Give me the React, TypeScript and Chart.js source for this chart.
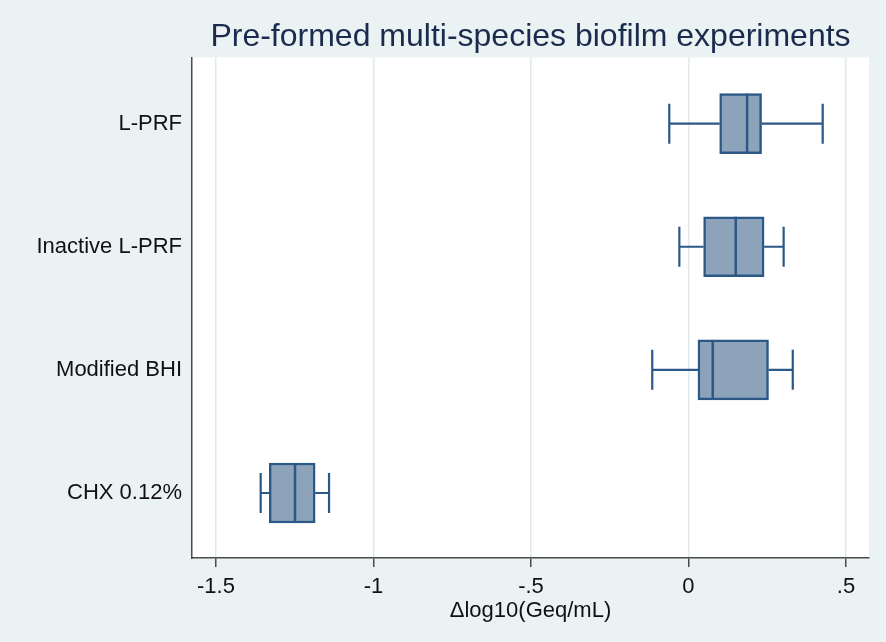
import React, { useEffect, useRef } from "react";
import { Chart, registerables } from "chart.js";

Chart.register(...registerables);

// groups, top to bottom
const groups = ["L-PRF", "Inactive L-PRF", "Modified BHI", "CHX 0.12%"];

// box plot summary values
const whiskerLow = [-0.061, -0.029, -0.115, -1.358];
const q1 = [0.099, 0.048, 0.03, -1.331];
const median = [0.186, 0.15, 0.077, -1.249];
const q3 = [0.232, 0.24, 0.254, -1.185];
const whiskerHigh = [0.426, 0.302, 0.331, -1.141];

const tickValues = [-1.5, -1, -0.5, 0, 0.5];
const tickLabels = ["-1.5", "-1", "-.5", "0", ".5"];

const FONT = "'Liberation Sans', Arial, sans-serif";
const BG = "#EAF2F3";
const BOX_FILL = "#8DA3BA";
const BOX_LINE = "#2C5887";
const AXIS = "#4A4A4A";

// page background + white plot region
const backgroundPlugin = {
  id: "stataBackground",
  beforeDraw(chart) {
    const { ctx, chartArea, width, height } = chart;
    ctx.save();
    ctx.fillStyle = BG;
    ctx.fillRect(0, 0, width, height);
    ctx.fillStyle = "#ffffff";
    ctx.fillRect(
      chartArea.left,
      chartArea.top,
      chartArea.right - chartArea.left,
      chartArea.bottom - chartArea.top
    );
    ctx.restore();
  },
};

// whiskers go under the boxes, medians on top
const boxPlotPlugin = {
  id: "boxPlotParts",
  beforeDatasetsDraw(chart) {
    const { ctx } = chart;
    const xScale = chart.scales.x;
    const meta = chart.getDatasetMeta(0);
    ctx.save();
    ctx.strokeStyle = BOX_LINE;
    ctx.lineWidth = 2.2;
    meta.data.forEach((bar, i) => {
      const y = bar.y;
      const lo = xScale.getPixelForValue(whiskerLow[i]);
      const hi = xScale.getPixelForValue(whiskerHigh[i]);
      const a = xScale.getPixelForValue(q1[i]);
      const b = xScale.getPixelForValue(q3[i]);
      const cap = bar.height / 3;
      ctx.beginPath();
      ctx.moveTo(lo, y);
      ctx.lineTo(a, y);
      ctx.moveTo(b, y);
      ctx.lineTo(hi, y);
      ctx.moveTo(lo, y - cap);
      ctx.lineTo(lo, y + cap);
      ctx.moveTo(hi, y - cap);
      ctx.lineTo(hi, y + cap);
      ctx.stroke();
    });
    ctx.restore();
  },
  afterDatasetsDraw(chart) {
    const { ctx } = chart;
    const xScale = chart.scales.x;
    const meta = chart.getDatasetMeta(0);
    ctx.save();
    ctx.strokeStyle = BOX_LINE;
    ctx.lineWidth = 2.5;
    meta.data.forEach((bar, i) => {
      const m = xScale.getPixelForValue(median[i]);
      ctx.beginPath();
      ctx.moveTo(m, bar.y - bar.height / 2);
      ctx.lineTo(m, bar.y + bar.height / 2);
      ctx.stroke();
    });
    ctx.restore();
  },
};

const BoxChart = () => {
  const canvasRef = useRef(null);
  const chartRef = useRef(null);

  useEffect(() => {
    document.body.style.margin = "0";
    if (!canvasRef.current) return;
    if (chartRef.current) chartRef.current.destroy();

    chartRef.current = new Chart(canvasRef.current, {
      type: "bar",
      data: {
        datasets: [
          {
            data: groups.map((_, i) => ({ y: i, x: [q1[i], q3[i]] })),
            backgroundColor: BOX_FILL,
            borderColor: BOX_LINE,
            borderWidth: 2.5,
            borderSkipped: false,
            barThickness: 60,
          },
        ],
      },
      options: {
        indexAxis: "y",
        responsive: true,
        maintainAspectRatio: false,
        animation: false,
        layout: { padding: { left: 0, right: 17, top: 0, bottom: 0 } },
        scales: {
          x: {
            type: "linear",
            min: -1.576,
            max: 0.573,
            afterBuildTicks: (scale) => {
              scale.ticks = tickValues.map((v) => ({ value: v }));
            },
            afterFit: (scale) => {
              scale.height = 84;
            },
            grid: {
              color: "#E2EAED",
              lineWidth: 1.5,
              drawTicks: true,
              tickLength: 9,
              tickColor: AXIS,
              tickWidth: 1.5,
            },
            border: { display: true, color: AXIS, width: 1.5 },
            ticks: {
              color: "#111111",
              font: { family: FONT, size: 22 },
              padding: 7,
              maxRotation: 0,
              callback: (value, index) => tickLabels[index],
            },
            title: {
              display: true,
              text: "Δlog10(Geq/mL)",
              color: "#111111",
              font: { family: FONT, size: 22 },
              padding: { top: 0, bottom: 18 },
            },
          },
          y: {
            type: "linear",
            reverse: true,
            offset: false,
            min: -0.538,
            max: 3.528,
            afterBuildTicks: (scale) => {
              scale.ticks = groups.map((_, i) => ({ value: i }));
            },
            afterFit: (scale) => {
              scale.width = 192;
            },
            grid: { display: false, drawTicks: false, offset: false },
            border: { display: true, color: AXIS, width: 1.5 },
            ticks: {
              color: "#111111",
              font: { family: FONT, size: 22 },
              padding: 10,
              callback: (value) => groups[value],
            },
          },
        },
        plugins: {
          legend: { display: false },
          tooltip: { enabled: false },
          title: {
            display: true,
            fullSize: false,
            text: "Pre-formed multi-species biofilm experiments",
            color: "#1B2B4D",
            font: { family: FONT, size: 32, weight: "normal" },
            padding: { top: 18, bottom: 1 },
          },
        },
      },
      plugins: [backgroundPlugin, boxPlotPlugin],
    });

    return () => {
      if (chartRef.current) {
        chartRef.current.destroy();
        chartRef.current = null;
      }
    };
  }, []);

  return (
    <div style={{ width: 886, height: 642, position: "relative", background: BG }}>
      <canvas ref={canvasRef} />
    </div>
  );
};

export default function App() {
  return <BoxChart />;
}
